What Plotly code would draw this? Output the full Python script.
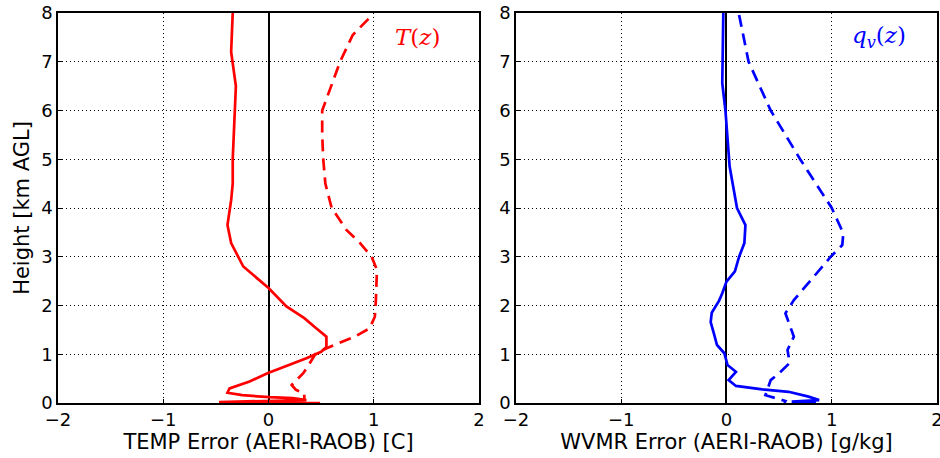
import plotly.graph_objects as go
from plotly.subplots import make_subplots

# Height levels (km AGL) and error profiles, temperature panel
temp_solid_z = [8.0, 7.2, 6.5, 5.5, 5.0, 4.5, 4.16, 3.65, 3.28, 2.8, 2.36, 1.98, 1.74, 1.54, 1.36,
                1.15, 1.05, 0.92, 0.81, 0.61, 0.44, 0.30, 0.21, 0.16, 0.12, 0.10, 0.06, 0.02, 0.0]
temp_solid_x = [-0.34, -0.355, -0.31, -0.33, -0.34, -0.34, -0.355, -0.39, -0.355, -0.24, 0.0, 0.17, 0.34,
                0.45, 0.55, 0.55, 0.50, 0.36, 0.23, -0.01, -0.18, -0.37, -0.39, -0.25, 0.01, 0.23,
                0.36, -0.47, 0.49]

temp_dash_z = [7.88, 7.55, 7.0, 6.0, 5.5, 5.0, 4.5, 4.16, 4.0, 3.55, 3.28, 3.0, 2.73, 2.11, 1.77, 1.53,
               1.36, 1.15, 1.02, 0.81, 0.61, 0.37, 0.27, 0.20, 0.06]
temp_dash_x = [0.95, 0.80, 0.68, 0.51, 0.51, 0.52, 0.54, 0.58, 0.60, 0.74, 0.87, 0.98, 1.03, 1.02, 1.01,
               0.96, 0.82, 0.58, 0.45, 0.39, 0.33, 0.22, 0.26, 0.34, 0.34]

# Water vapour mixing ratio panel
wvmr_solid_z = [8.0, 6.56, 6.0, 5.0, 4.85, 4.0, 3.65, 3.28, 3.0, 2.7, 2.49, 2.25, 2.1, 1.85, 1.66, 1.43,
                1.19, 1.02, 0.78, 0.64, 0.47, 0.35, 0.28, 0.23, 0.13, 0.06, 0.03, 0.01]
wvmr_solid_x = [-0.03, -0.04, -0.01, 0.02, 0.03, 0.10, 0.18, 0.17, 0.12, 0.08, 0.0, -0.04, -0.07, -0.14,
                -0.15, -0.12, -0.09, -0.02, 0.01, 0.09, 0.02, 0.09, 0.34, 0.59, 0.78, 0.88, 0.62, 0.85]

wvmr_dash_z = [7.96, 7.0, 6.0, 5.0, 4.0, 3.48, 3.24, 3.0, 2.11, 2.0, 1.84, 1.36, 1.09, 0.82, 0.61, 0.47,
               0.27, 0.16, 0.08, 0.04, 0.0]
wvmr_dash_x = [0.12, 0.21, 0.42, 0.70, 1.0, 1.11, 1.10, 0.99, 0.64, 0.61, 0.56, 0.64, 0.58, 0.60, 0.50,
               0.42, 0.39, 0.37, 0.50, 0.56, 0.55]

x_ticks = [-2, -1, 0, 1, 2]
y_ticks = [0, 1, 2, 3, 4, 5, 6, 7, 8]

RED = "#ff0000"
BLUE = "#0000ff"
FONT = "DejaVu Sans"
DASH = "12px,7px"

fig = make_subplots(rows=1, cols=2, horizontal_spacing=0.042)

fig.add_trace(go.Scatter(x=temp_solid_x, y=temp_solid_z, mode="lines",
                         line=dict(color=RED, width=2.7)), row=1, col=1)
fig.add_trace(go.Scatter(x=temp_dash_x, y=temp_dash_z, mode="lines",
                         line=dict(color=RED, width=2.7, dash=DASH)), row=1, col=1)
fig.add_trace(go.Scatter(x=wvmr_solid_x, y=wvmr_solid_z, mode="lines",
                         line=dict(color=BLUE, width=2.7)), row=1, col=2)
fig.add_trace(go.Scatter(x=wvmr_dash_x, y=wvmr_dash_z, mode="lines",
                         line=dict(color=BLUE, width=2.7, dash=DASH)), row=1, col=2)

axis_common = dict(
    showline=True, mirror=True, linecolor="black", linewidth=1.5,
    showgrid=True, gridcolor="black", gridwidth=1, griddash="1px,3px",
    ticks="inside", ticklen=4, tickcolor="black",
    tickfont=dict(family=FONT, size=18, color="black"),
    automargin=False,
)

for c, title in [(1, "TEMP Error (AERI-RAOB) [C]"), (2, "WVMR Error (AERI-RAOB) [g/kg]")]:
    fig.update_xaxes(range=[-2, 2], tickvals=x_ticks, zeroline=True, zerolinecolor="black",
                     zerolinewidth=1.5, ticklabeloverflow="allow",
                     title=dict(text=title, font=dict(family=FONT, size=21, color="black"), standoff=5),
                     **axis_common, row=1, col=c)
    fig.update_yaxes(range=[0, 8], tickvals=y_ticks, zeroline=False, **axis_common, row=1, col=c)

fig.update_yaxes(title=dict(text="Height [km AGL]", font=dict(family=FONT, size=21, color="black"),
                            standoff=6), row=1, col=1)

fig.add_annotation(x=1.42, y=7.5, xref="x", yref="y", text="<i>T</i>(<i>z</i>)", showarrow=False,
                   font=dict(family="DejaVu Serif", size=23, color=RED))
fig.add_annotation(x=1.45, y=7.5, xref="x2", yref="y2",
                   text="<i>q</i><sub><i>v</i></sub>(<i>z</i>)", showarrow=False,
                   font=dict(family="DejaVu Serif", size=23, color=BLUE))

fig.update_layout(
    width=940, height=458,
    margin=dict(l=58, r=3, t=13, b=55),
    paper_bgcolor="white", plot_bgcolor="white",
    showlegend=False,
)

fig.write_html("out.html")
